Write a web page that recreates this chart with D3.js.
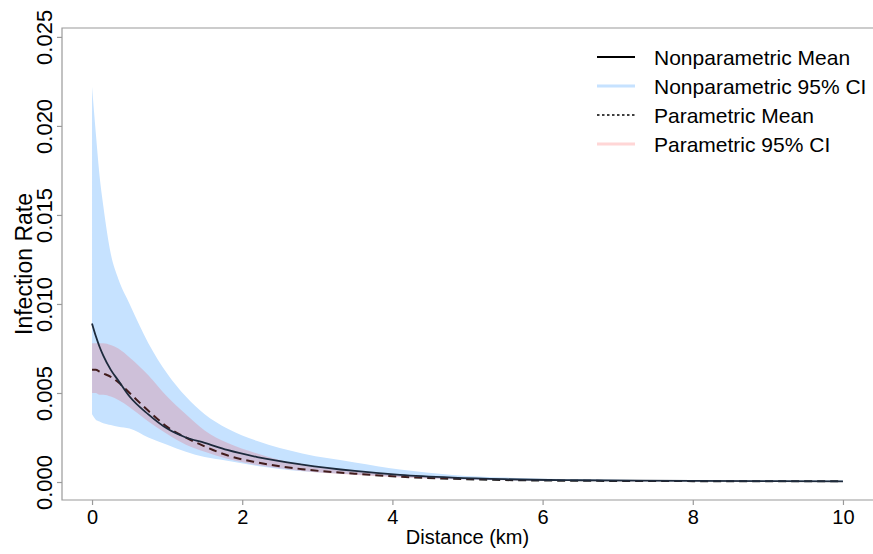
<!DOCTYPE html>
<html>
<head>
<meta charset="utf-8">
<script src="https://cdn.jsdelivr.net/npm/d3@7"></script>
<style>
  html, body { margin: 0; padding: 0; background: #fff; }
  svg { display: block; font-family: "Liberation Sans", Arial, Helvetica, sans-serif; }
</style>
</head>
<body>
<svg id="chart" width="873" height="554"></svg>
<script>
// ---- data ----
const distance = [0, 0.05, 0.1, 0.15, 0.25, 0.35, 0.5, 0.75, 1, 1.25, 1.5, 1.8, 2.2, 2.8, 3.5, 4.1, 4.8, 5.5, 6.5, 8, 10];
const npMean = [0.0089, 0.0082, 0.0076, 0.0071, 0.0063, 0.0057, 0.0048, 0.0038, 0.0030, 0.0025, 0.0022, 0.0018, 0.0014, 0.00098, 0.00062, 0.0004, 0.00025, 0.00016, 0.0001, 0.00006, 0.00004];
const npHi   = [0.0222, 0.0196, 0.0172, 0.0155, 0.0128, 0.0114, 0.0100, 0.0078, 0.0061, 0.0048, 0.0038, 0.0030, 0.0023, 0.0016, 0.0011, 0.0007, 0.0004, 0.00025, 0.00016, 0.0001, 0.00008];
const npLo   = [0.0038, 0.0035, 0.0034, 0.0033, 0.0032, 0.0031, 0.0030, 0.0025, 0.0021, 0.0017, 0.0014, 0.0012, 0.0009, 0.0006, 0.00042, 0.00028, 0.00016, 0.0001, 0.00006, 0.00003, 0.00002];
const pMean  = [0.0063, 0.0063, 0.0062, 0.0061, 0.0059, 0.0056, 0.0050, 0.0040, 0.0031, 0.0025, 0.0020, 0.0015, 0.0011, 0.00072, 0.00047, 0.0003, 0.00018, 0.00011, 0.00007, 0.00005, 0.00004];
const pHi    = [0.0078, 0.0078, 0.0078, 0.0078, 0.0077, 0.0075, 0.0070, 0.0060, 0.0048, 0.0038, 0.0029, 0.0022, 0.0016, 0.00095, 0.0006, 0.0004, 0.00024, 0.00015, 0.0001, 0.00007, 0.00005];
const pLo    = [0.0050, 0.0050, 0.0049, 0.0049, 0.0048, 0.0046, 0.0042, 0.0034, 0.0027, 0.0021, 0.0017, 0.0013, 0.00095, 0.00062, 0.0004, 0.00026, 0.00015, 0.0001, 0.00006, 0.00004, 0.00003];
const xTicks = [0, 2, 4, 6, 8, 10];
const yTicks = [0, 0.005, 0.010, 0.015, 0.020, 0.025];
const legendLabels = ["Nonparametric Mean", "Nonparametric 95% CI", "Parametric Mean", "Parametric 95% CI"];

// ---- layout ----
const svg = d3.select("#chart");
const L = 62, R = 873, T = 28, B = 500;
const x = d3.scaleLinear().domain([-0.4, 10.4]).range([L, R]);
const y = d3.scaleLinear().domain([-0.00101, 0.0255]).range([B, T]);

const rows = distance.map((d, i) => ({d, npMean: npMean[i], npHi: npHi[i], npLo: npLo[i], pMean: pMean[i], pHi: pHi[i], pLo: pLo[i]}));
const curve = d3.curveMonotoneX;

const BLUE = "#c6e2ff";
const PINK = "rgba(255,0,0,0.15)";

// blue band
svg.append("path").datum(rows)
  .attr("fill", BLUE)
  .attr("d", d3.area().curve(curve).x(r => x(r.d)).y0(r => y(r.npLo)).y1(r => y(r.npHi)));

// parametric mean (dashed), under the pink band
svg.append("path").datum(rows)
  .attr("fill", "none").attr("stroke", "#222").attr("stroke-width", 2)
  .attr("stroke-dasharray", "8,5")
  .attr("d", d3.line().curve(curve).x(r => x(r.d)).y(r => y(r.pMean)));

// pink band
svg.append("path").datum(rows)
  .attr("fill", PINK)
  .attr("d", d3.area().curve(curve).x(r => x(r.d)).y0(r => y(r.pLo)).y1(r => y(r.pHi)));

// nonparametric mean (solid)
svg.append("path").datum(rows)
  .attr("fill", "none").attr("stroke", "#1d2a3c").attr("stroke-width", 1.8)
  .attr("d", d3.line().curve(curve).x(r => x(r.d)).y(r => y(r.npMean)));

// ---- frame ----
const AX = "#9a9a9a";
svg.append("path").attr("fill", "none").attr("stroke", AX).attr("stroke-width", 1.2)
  .attr("d", `M${R},${T}H${L}V${B}H${R}`);

// x axis
const xAxis = svg.append("g").attr("transform", `translate(0,${B})`)
  .call(d3.axisBottom(x).tickValues(xTicks).tickSize(5).tickFormat(d3.format("d")));
xAxis.select(".domain").remove();
xAxis.selectAll("line").attr("stroke", AX).attr("stroke-width", 1.2);
xAxis.selectAll("text").attr("fill", "#000").attr("font-size", 20).attr("y", 5).attr("dy", "0.95em")
  .style("font-family", "Liberation Sans, Arial, sans-serif");

// y axis
const yAxis = svg.append("g").attr("transform", `translate(${L},0)`)
  .call(d3.axisLeft(y).tickValues(yTicks).tickSize(5).tickFormat(d3.format(".3f")));
yAxis.select(".domain").remove();
yAxis.selectAll("line").attr("stroke", AX).attr("stroke-width", 1.2);
yAxis.selectAll("text")
  .attr("fill", "#000").attr("font-size", 22)
  .attr("x", null).attr("dy", null)
  .attr("text-anchor", "middle")
  .attr("transform", "translate(-10,0) rotate(-90)")
  .attr("y", -0.5)
  .style("font-family", "Liberation Sans, Arial, sans-serif");

// axis titles
svg.append("text").attr("x", (L + R) / 2).attr("y", 544)
  .attr("text-anchor", "middle").attr("font-size", 20).attr("fill", "#000")
  .text("Distance (km)");
svg.append("text")
  .attr("transform", `translate(32,${(T + B) / 2}) rotate(-90)`)
  .attr("text-anchor", "middle").attr("font-size", 23).attr("fill", "#000")
  .text("Infection Rate");

// ---- legend ----
const legendStyles = [
  {stroke: "#000", width: 2, dash: null},
  {stroke: BLUE, width: 3, dash: null},
  {stroke: "#000", width: 1.6, dash: "2.5,2.5"},
  {stroke: "#ffd6d6", width: 3, dash: null}
];
const lg = svg.append("g");
legendLabels.forEach((lab, i) => {
  const yy = 57 + i * 29;
  const st = legendStyles[i];
  lg.append("line").attr("x1", 597).attr("x2", 635).attr("y1", yy).attr("y2", yy)
    .attr("stroke", st.stroke).attr("stroke-width", st.width)
    .attr("stroke-dasharray", st.dash);
  lg.append("text").attr("x", 654).attr("y", yy + 8)
    .attr("font-size", 21).attr("fill", "#000").text(lab);
});
</script>
</body>
</html>
